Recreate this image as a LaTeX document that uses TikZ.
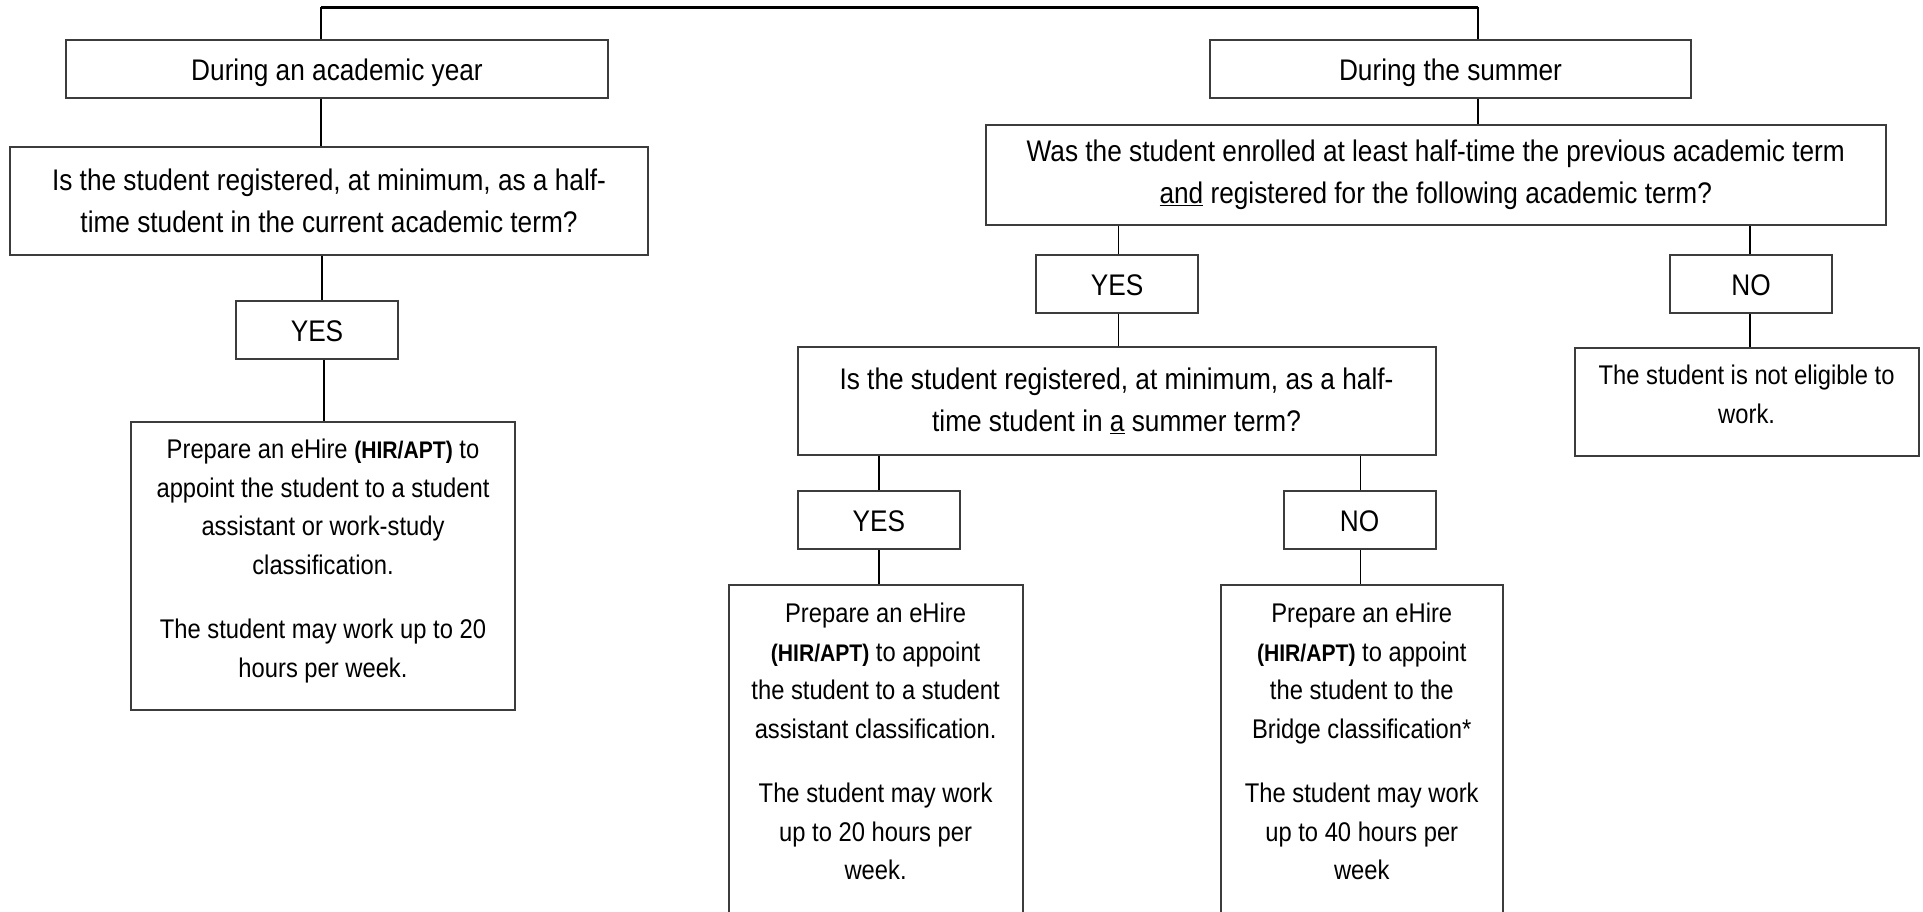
\documentclass[tikz,border=0pt]{standalone}
\usepackage{fontspec}
\setmainfont{Liberation Sans}[FakeStretch=0.88]
\definecolor{boxgray}{RGB}{60,60,60}
\newcommand\bodyfont{\fontsize{29.8}{42}\selectfont}
\newcommand\resfont{\fontsize{27}{38.5}\selectfont}
\newcommand\hirapt{{\bfseries\fontsize{24}{38.5}\selectfont(HIR/APT)}}
\begin{document}
\begin{tikzpicture}[x=1pt,y=-1pt,
  box/.style={draw=boxgray,line width=2pt,inner sep=0pt,align=center,font=\bodyfont},
  onebox/.style={box,text height=26pt,text depth=4pt},
  rbox/.style={draw=boxgray,line width=2pt,inner sep=0pt,font=\resfont,anchor=north west},
  conn/.style={line width=1.8pt,black},
  topconn/.style={line width=3pt,black}]
\useasboundingbox (0,0) rectangle (1923,911);
\clip (0,0) rectangle (1923,911);

% left branch
\node[onebox,minimum width=542pt,minimum height=58pt] (A) at (337,69) {During an academic year};
\node[box,minimum width=638pt,minimum height=108pt] (Q1) at (329,201)
  {Is the student registered, at minimum, as a half-\\time student in the current academic term?};
\node[onebox,minimum width=162pt,minimum height=58pt] (Y1) at (317,330) {YES};
\node[rbox] (R1) at (130,421) {\parbox[c][288pt][t]{384pt}{\centering\resfont\vspace*{17pt}
  Prepare an eHire \hirapt{} to\\appoint the student to a student\\assistant or work-study\\classification.\par
  \vspace{26pt}
  The student may work up to 20\\hours per week.\par}};

% right branch
\node[onebox,minimum width=481pt,minimum height=58pt] (S) at (1450.5,69) {During the summer};
\node[box,minimum width=900pt,minimum height=100pt] (Q2) at (1435.75,175)
  {Was the student enrolled at least half-time the previous academic term\\\underline{and} registered for the following academic term?};
\node[onebox,minimum width=162pt,minimum height=58pt] (Y2) at (1117,284) {YES};
\node[onebox,minimum width=162pt,minimum height=58pt] (N2) at (1751,284) {NO};
\node[box,minimum width=638pt,minimum height=108pt] (Q3) at (1116.5,401)
  {Is the student registered, at minimum, as a half-\\time student in \underline{a} summer term?};
\node[rbox] (NE) at (1573.6,347) {\parbox[c][108pt][t]{344pt}{\centering\resfont\vspace*{17pt}
  The student is not eligible to\\work.\par}};
\node[onebox,minimum width=162pt,minimum height=58pt] (Y3) at (878.75,520) {YES};
\node[onebox,minimum width=152pt,minimum height=58pt] (N3) at (1359.5,520) {NO};
\node[rbox] (R2) at (727.6,584) {\parbox[c][380pt][t]{294pt}{\centering\resfont\vspace*{18pt}
  Prepare an eHire\\\hirapt{} to appoint\\the student to a student\\assistant classification.\par
  \vspace{26pt}
  The student may work\\up to 20 hours per\\week.\par}};
\node[rbox] (R3) at (1219.5,584) {\parbox[c][380pt][t]{282.5pt}{\centering\resfont\vspace*{18pt}
  Prepare an eHire\\\hirapt{} to appoint\\the student to the\\Bridge classification*\par
  \vspace{26pt}
  The student may work\\up to 40 hours per\\week\par}};

% connectors
\coordinate (tl) at (321,7);
\coordinate (tr) at (1478,7);
\draw[topconn] (tl) -- (tr);
\draw[conn] (tl) -- (A.north -| tl);
\draw[conn] (tr) -- (S.north -| tr);
\coordinate (cA) at (321,0);
\coordinate (cY1) at (322,0);
\coordinate (cR1) at (324,0);
\draw[conn] (A.south -| cA) -- (Q1.north -| cA);
\draw[conn] (Q1.south -| cY1) -- (Y1.north -| cY1);
\draw[conn] (Y1.south -| cR1) -- (R1.north -| cR1);
\draw[conn] (S.south -| tr) -- (Q2.north -| tr);
\coordinate (cY2) at (1118.5,0);
\coordinate (cN2) at (1750,0);
\coordinate (cY3) at (879,0);
\coordinate (cN3) at (1360.5,0);
\draw[conn] (Q2.south -| cY2) -- (Y2.north -| cY2);
\draw[conn] (Q2.south -| cN2) -- (N2.north -| cN2);
\draw[conn] (Y2.south -| cY2) -- (Q3.north -| cY2);
\draw[conn] (N2.south -| cN2) -- (NE.north -| cN2);
\draw[conn] (Q3.south -| cY3) -- (Y3.north -| cY3);
\draw[conn] (Q3.south -| cN3) -- (N3.north -| cN3);
\draw[conn] (Y3.south -| cY3) -- (R2.north -| cY3);
\draw[conn] (N3.south -| cN3) -- (R3.north -| cN3);
\end{tikzpicture}
\end{document}
